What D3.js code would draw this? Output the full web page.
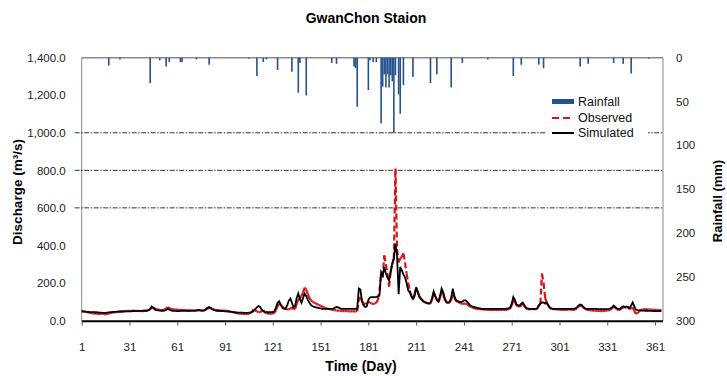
<!DOCTYPE html>
<html>
  <head>
    <meta charset="utf-8" />
    <title>GwanChon Staion</title>
    <script src="https://d3js.org/d3.v7.min.js"></script>
    <style>
      body {
        margin: 0;
        background: #fff;
      }
      text {
        font-family: "Liberation Sans", Arial, sans-serif;
      }
    </style>
  </head>
  <body>
    <svg id="chart" width="727" height="376"></svg>

    <script>
      // daily discharge, day 1 .. 365 (m3/s)
      var simulated = [
        48,47,47,46,46,45,45,45,44,44, 43,42,42,41,41,41,42,43,44,45,
        46,46,47,47,48,48,48,49,49,49, 49,49,50,50,50,50,51,51,51,52,
        52,52,55,62,75,66,58,55,54,53, 52,52,53,56,62,58,54,52,51,51,
        50,50,51,52,53,52,51,51,52,53, 53,52,54,56,55,54,53,54,60,68,
        72,66,60,56,53,52,51,51,50,50, 49,49,48,47,46,45,44,43,42,42,
        42,42,41,41,41,42,43,45,52,60, 70,78,72,58,50,46,45,44,44,44,
        45,50,70,95,103,85,68,62,62,80, 105,117,95,70,78,120,144,115,95,120,
        144,130,110,95,82,76,72,70,68,66, 64,62,62,62,62,62,62,62,63,68,
        72,70,66,62,62,62,62,62,62,62, 62,62,62,62,170,165,100,80,72,75,
        110,122,125,125,125,126,128,135,258,240, 285,250,230,214,260,304,330,410,347,140,
        285,267,246,230,200,160,150,130,115,130, 178,150,125,115,105,100,95,92,90,95,
        120,155,130,110,100,130,170,150,117,100, 96,100,120,169,130,107,105,100,98,100,
        107,107,100,90,80,76,72,70,68,66, 64,62,62,62,62,62,62,62,62,62,
        62,62,62,62,62,62,62,63,64,68, 90,125,110,85,80,80,90,96,80,68,
        64,62,62,62,62,62,64,80,90,96, 96,90,96,80,68,64,62,62,62,62,
        62,62,62,62,62,62,62,62,62,62, 64,70,80,85,82,72,64,62,62,62,
        62,62,62,62,61,61,61,61,61,61, 61,62,64,70,80,72,64,62,62,70,
        76,72,75,72,66,80,96,75,58,55, 54,54,53,53,52,52,51,51,51,50,
        50,50,50,50,50
      ];

      var observed = [
        52,50,48,45,43,41,40,38,37,36, 35,34,36,38,35,33,34,37,40,42,
        43,44,45,46,47,48,49,50,50,51, 51,51,52,52,52,51,51,50,50,51,
        52,53,55,60,68,70,64,60,58,57, 56,56,58,64,71,66,62,60,59,58,
        58,57,56,56,55,55,54,54,53,53, 53,52,53,54,54,53,52,54,58,64,
        67,66,62,58,56,55,54,54,53,53, 52,51,50,48,46,44,42,40,38,37,
        36,35,35,34,34,36,40,48,60,54, 48,45,44,50,56,42,38,36,36,37,
        38,40,55,75,90,85,72,66,62,60, 58,62,70,60,62,90,110,120,130,150,
        175,165,140,120,107,100,95,90,86,82, 78,74,70,66,64,62,60,58,56,55,
        54,53,52,51,50,50,50,50,49,49, 49,49,49,50,110,125,105,90,88,92,
        100,95,90,88,90,95,110,160,250,230, 347,300,250,180,260,300,330,810,380,310,
        330,340,357,310,250,200,160,130,115,140, 170,155,130,118,108,100,96,93,90,92,
        110,145,130,110,100,120,155,140,110,96, 92,96,110,137,125,105,100,96,92,88,
        90,90,86,80,74,70,66,64,62,60, 60,60,59,58,58,57,57,56,56,56,
        56,56,57,57,56,56,56,58,60,64, 80,107,100,82,76,74,80,88,76,64,
        60,60,61,61,60,60,62,80,90,250, 200,120,95,80,66,62,60,60,59,59,
        58,58,57,57,56,58,60,58,56,56, 60,66,75,80,78,70,62,58,56,55,
        54,53,52,52,51,51,50,50,51,52, 53,55,58,64,74,68,60,56,56,64,
        72,68,72,70,62,64,70,50,36,40, 48,54,58,60,60,60,59,58,58,57,
        57,57,56,56,55
      ];

      // daily rainfall (mm), only days with rain
      var rainDays = [18,25,44,50,54,56,63,64,73,81,106,111,115,117,124,133,137,138,142,158,
                      161,172,173,174,181,182,184,186,189,190,191,192,193,194,195,196,197,198,200,201,
                      203,209,220,224,233,240,256,272,277,288,291,314,319,335,341,346,357];
      var rainMm   = [9,2,29,3,10,5,5,5,2,8,1,21,5,2,14,16,40,6,43,6,
                      7,10,12,56,37,3,5,5,75,33,19,34,19,34,20,27,86,20,42,64,
                      31,22,29,19,34,6,2,21,8,8,12,10,7,6,7,18,1];

      var qTicks = [0, 200, 400, 600, 800, 1000, 1200, 1400];
      var gridValues = [600, 800, 1000];
      var rainTicks = [0, 50, 100, 150, 200, 250, 300];
      var dayTicks = [1, 31, 61, 91, 121, 151, 181, 211, 241, 271, 301, 331, 361];

      var plotLeft = 81.7, plotRight = 663, plotTop = 57.7, plotBottom = 320.5;
      var svg = d3.select("#chart");

      var x = d3.scaleLinear().domain([1, 366]).range([plotLeft, plotRight]);
      var y = d3.scaleLinear().domain([0, 1400]).range([plotBottom, plotTop]);
      var yRain = d3.scaleLinear().domain([0, 300]).range([plotTop, plotBottom]);

      // frame
      svg.append("line").attr("x1", plotLeft).attr("x2", plotRight).attr("y1", plotTop).attr("y2", plotTop)
        .attr("stroke", "#8a8a8a").attr("stroke-width", 1.5);
      svg.append("line").attr("x1", plotLeft).attr("x2", plotLeft).attr("y1", plotTop).attr("y2", plotBottom)
        .attr("stroke", "#8a8a8a").attr("stroke-width", 1);
      svg.append("line").attr("x1", plotRight).attr("x2", plotRight).attr("y1", plotTop).attr("y2", plotBottom)
        .attr("stroke", "#8a8a8a").attr("stroke-width", 1);

      // gridlines
      svg.append("g").selectAll("line")
        .data(gridValues)
        .enter().append("line")
        .attr("x1", plotLeft - 7).attr("x2", plotRight)
        .attr("y1", function(d) { return y(d); })
        .attr("y2", function(d) { return y(d); })
        .attr("stroke", "#333")
        .attr("stroke-width", 1)
        .attr("stroke-dasharray", "5,1.5,1.5,1.5");

      // rainfall bars hanging from the top
      var rain = rainDays.map(function(d, i) { return {day: d, mm: rainMm[i]}; });
      svg.append("g").selectAll("rect")
        .data(rain)
        .enter().append("rect")
        .attr("x", function(d) { return x(d.day) - 0.8; })
        .attr("y", plotTop)
        .attr("width", 1.6)
        .attr("height", function(d) { return yRain(d.mm) - plotTop; })
        .attr("fill", "#24528f");

      // observed: each segment dashed on its own, like the original
      var obsPts = observed.map(function(v, i) { return [x(i + 1), y(v)]; });
      svg.append("g").selectAll("line")
        .data(d3.pairs(obsPts))
        .enter().append("line")
        .attr("x1", function(d) { return d[0][0]; })
        .attr("y1", function(d) { return d[0][1]; })
        .attr("x2", function(d) { return d[1][0]; })
        .attr("y2", function(d) { return d[1][1]; })
        .attr("stroke", "#d7141a")
        .attr("stroke-width", 2.2)
        .attr("stroke-dasharray", "6,3");

      // simulated
      var line = d3.line()
        .x(function(d, i) { return x(i + 1); })
        .y(function(d) { return y(d); });
      svg.append("path")
        .datum(simulated)
        .attr("d", line)
        .attr("fill", "none")
        .attr("stroke", "#000")
        .attr("stroke-width", 1.8);

      // bottom axis
      svg.append("line").attr("x1", plotLeft).attr("x2", plotRight)
        .attr("y1", plotBottom + 0.8).attr("y2", plotBottom + 0.8)
        .attr("stroke", "#000").attr("stroke-width", 2);
      var xAxis = d3.axisBottom(x).tickValues(dayTicks).tickSize(4).tickPadding(17);
      var gx = svg.append("g").attr("transform", "translate(0," + (plotBottom + 1) + ")").call(xAxis);
      gx.select(".domain").remove();
      gx.selectAll("line").attr("stroke", "#555");
      gx.selectAll("text").attr("font-size", "11.5px").attr("fill", "#222")
        .style("font-family", "'Liberation Sans', Arial, sans-serif");

      // left axis labels
      var yAxis = d3.axisLeft(y).tickValues(qTicks).tickSize(0).tickPadding(16)
        .tickFormat(function(d) { return d3.format(",.1f")(d); });
      var gy = svg.append("g").attr("transform", "translate(" + plotLeft + ",0)").call(yAxis);
      gy.select(".domain").remove();
      gy.selectAll("text").attr("font-size", "11.5px").attr("fill", "#222")
        .style("font-family", "'Liberation Sans', Arial, sans-serif");

      // right axis labels
      var rAxis = d3.axisRight(yRain).tickValues(rainTicks).tickSize(0).tickPadding(13);
      var gr = svg.append("g").attr("transform", "translate(" + plotRight + ",0)").call(rAxis);
      gr.select(".domain").remove();
      gr.selectAll("text").attr("font-size", "11.5px").attr("fill", "#222")
        .style("font-family", "'Liberation Sans', Arial, sans-serif");

      // legend
      var lg = svg.append("g");
      lg.append("rect").attr("x", 546).attr("y", 92).attr("width", 102).attr("height", 48).attr("fill", "#fff");
      lg.append("rect").attr("x", 552).attr("y", 99).attr("width", 22).attr("height", 5).attr("fill", "#24528f");
      lg.append("line").attr("x1", 552).attr("x2", 574).attr("y1", 118).attr("y2", 118)
        .attr("stroke", "#d7141a").attr("stroke-width", 2.2).attr("stroke-dasharray", "7,4");
      lg.append("line").attr("x1", 552).attr("x2", 574).attr("y1", 133).attr("y2", 133)
        .attr("stroke", "#000").attr("stroke-width", 2);
      var legendNames = ["Rainfall", "Observed", "Simulated"];
      lg.selectAll("text.lab")
        .data(legendNames)
        .enter().append("text")
        .attr("class", "lab")
        .attr("x", 578)
        .attr("y", function(d, i) { return 106 + i * 15.5; })
        .attr("font-size", "12.5px")
        .attr("fill", "#111")
        .text(function(d) { return d; });

      // titles
      svg.append("text").attr("x", 366).attr("y", 23).attr("text-anchor", "middle")
        .attr("font-size", "14px").attr("font-weight", "bold").text("GwanChon Staion");
      svg.append("text").attr("x", 361).attr("y", 371).attr("text-anchor", "middle")
        .attr("font-size", "14px").attr("font-weight", "bold").text("Time (Day)");
      svg.append("text").attr("transform", "translate(22,192) rotate(-90)").attr("text-anchor", "middle")
        .attr("font-size", "13.5px").attr("font-weight", "bold").text("Discharge (m\u00b3/s)");
      svg.append("text").attr("transform", "translate(722,201) rotate(-90)").attr("text-anchor", "middle")
        .attr("font-size", "13px").attr("font-weight", "bold").text("Rainfall (mm)");
    </script>
  </body>
</html>
